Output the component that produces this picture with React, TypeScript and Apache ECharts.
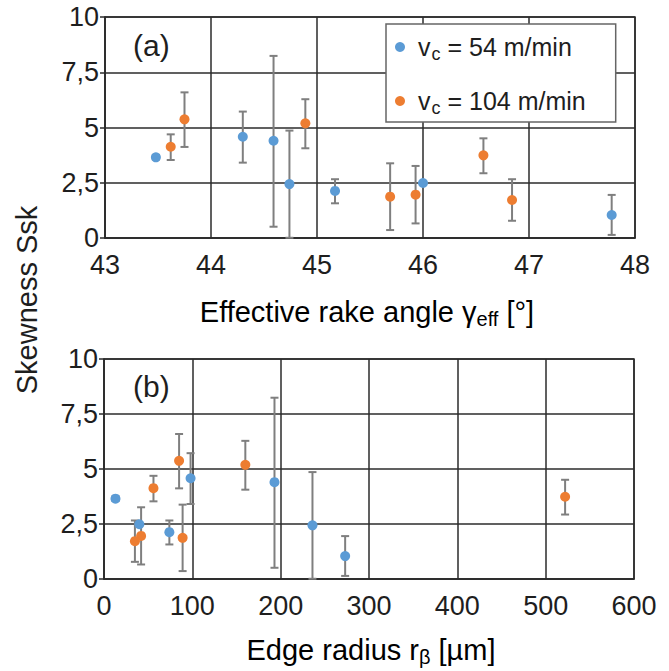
import React, { useEffect, useRef } from "react";
import * as echarts from "echarts";

// ---- data ----
const blueName = "vc = 54 m/min";
const orangeName = "vc = 104 m/min";

// v_c = 54 m/min
const rakeBlue = [43.48, 44.30, 44.59, 44.74, 45.17, 46.00, 47.78];
const radiusBlue = [13, 98, 193, 236, 74, 40, 273];
const sskBlue = [3.65, 4.58, 4.40, 2.44, 2.13, 2.49, 1.04];
const sskBlueLo = [3.55, 3.41, 0.51, 0.01, 1.57, 2.49, 0.14];
const sskBlueHi = [3.76, 5.72, 8.24, 4.86, 2.66, 2.49, 1.95];

// v_c = 104 m/min
const rakeOrange = [43.62, 43.75, 44.89, 45.69, 45.93, 46.57, 46.84];
const radiusOrange = [56, 85, 160, 89, 42, 522, 35];
const sskOrange = [4.13, 5.37, 5.19, 1.87, 1.96, 3.74, 1.72];
const sskOrangeLo = [3.53, 4.12, 4.06, 0.36, 0.66, 2.93, 0.78];
const sskOrangeHi = [4.69, 6.59, 6.28, 3.38, 3.26, 4.51, 2.66];

const rakeTicks = { min: 43, max: 48, interval: 1 };
const radiusTicks = { min: 0, max: 600, interval: 100 };
const sskTicks = { min: 0, max: 10, interval: 2.5 };

const BLUE = "#5B9BD5";
const ORANGE = "#ED7D31";
const ERR = "#7f7f7f";
const GRIDC = "#2b2b2b";
const TXT = "#1e1e1e";
const FONT = "Liberation Sans, Arial, sans-serif";

const points = (xs: number[], ys: number[]) => xs.map((x, i) => [x, ys[i]]);
const errs = (xs: number[], lo: number[], hi: number[]) => xs.map((x, i) => [x, lo[i], hi[i]]);

const renderErr = (params: any, api: any) => {
  const x = api.value(0);
  const lo = api.value(1);
  const hi = api.value(2);
  if (hi - lo <= 0) return { type: "group", children: [] };
  const a = api.coord([x, lo]);
  const b = api.coord([x, hi]);
  const w = 4;
  const st = { stroke: ERR, lineWidth: 2 };
  return {
    type: "group",
    children: [
      { type: "line", shape: { x1: a[0], y1: a[1], x2: b[0], y2: b[1] }, style: st },
      { type: "line", shape: { x1: a[0] - w, y1: a[1], x2: a[0] + w, y2: a[1] }, style: st },
      { type: "line", shape: { x1: b[0] - w, y1: b[1], x2: b[0] + w, y2: b[1] }, style: st },
    ],
  };
};

export default function App() {
  const ref = useRef<HTMLDivElement>(null);
  useEffect(() => {
    if (!ref.current) return;
    const chart = echarts.init(ref.current, undefined, { renderer: "svg" });

    const yAxisBase = (gridIndex: number) => ({
      type: "value",
      gridIndex,
      ...sskTicks,
      axisLine: { show: true, lineStyle: { color: GRIDC, width: 1.5 } },
      axisTick: { show: true, length: 5, lineStyle: { color: GRIDC, width: 1.5 } },
      splitLine: { show: true, lineStyle: { color: GRIDC, width: 1.5 } },
      axisLabel: {
        fontSize: 27,
        fontFamily: FONT,
        color: TXT,
        margin: 6,
        formatter: (v: number) => String(v).replace(".", ","),
      },
    });
    const xAxisBase = (gridIndex: number, t: any) => ({
      type: "value",
      gridIndex,
      ...t,
      axisLine: { show: true, lineStyle: { color: GRIDC, width: 1.5 } },
      axisTick: { show: false },
      splitLine: { show: true, lineStyle: { color: GRIDC, width: 1.5 } },
      axisLabel: { fontSize: 27, fontFamily: FONT, color: TXT, margin: 13 },
    });

    const subRich = {
      a: { fontSize: 29, fontFamily: FONT, color: TXT },
      s: { fontSize: 20, fontFamily: FONT, color: TXT, padding: [14, 0, 0, 0] },
    };

    const errSeries = (name: string, color: string, idx: number, xs: number[], lo: number[], hi: number[]) => ({
      type: "custom",
      name,
      xAxisIndex: idx,
      yAxisIndex: idx,
      renderItem: renderErr,
      encode: { x: 0, y: [1, 2] },
      itemStyle: { color },
      data: errs(xs, lo, hi),
      z: 2,
    });
    const dotSeries = (name: string, color: string, idx: number, xs: number[], ys: number[]) => ({
      type: "scatter",
      name,
      xAxisIndex: idx,
      yAxisIndex: idx,
      symbolSize: 10,
      itemStyle: { color, opacity: 1 },
      data: points(xs, ys),
      z: 3,
    });

    chart.setOption({
      animation: false,
      backgroundColor: "#fff",
      grid: [
        { left: 105, top: 17, width: 530, height: 221, show: true, borderColor: GRIDC, borderWidth: 1.5 },
        { left: 104, top: 359, width: 530, height: 220, show: true, borderColor: GRIDC, borderWidth: 1.5 },
      ],
      xAxis: [xAxisBase(0, rakeTicks), xAxisBase(1, radiusTicks)],
      yAxis: [yAxisBase(0), yAxisBase(1)],
      legend: {
        data: [
          { name: blueName, itemStyle: { color: BLUE } },
          { name: orangeName, itemStyle: { color: ORANGE } },
        ],
        orient: "vertical",
        left: 386,
        top: 24,
        padding: [8, 30, 5, 9],
        itemGap: 23,
        itemWidth: 10,
        itemHeight: 10,
        icon: "circle",
        backgroundColor: "#fff",
        borderColor: "#666",
        borderWidth: 1.5,
        formatter: (name: string) =>
          name === blueName ? "{a|v}{s|c}{a| = 54 m/min}" : "{a|v}{s|c}{a| = 104 m/min}",
        textStyle: {
          fontSize: 25,
          fontFamily: FONT,
          color: TXT,
          lineHeight: 30,
          padding: [0, 0, 0, 8],
          rich: {
            a: { fontSize: 25, fontFamily: FONT, color: TXT },
            s: { fontSize: 18, fontFamily: FONT, color: TXT, padding: [14, 0, 0, 1] },
          },
        },
      },
      graphic: [
        {
          type: "text",
          x: 133,
          y: 45,
          style: { text: "(a)", fontSize: 30, fontFamily: FONT, fill: TXT, textVerticalAlign: "middle" },
        },
        {
          type: "text",
          x: 133,
          y: 386,
          style: { text: "(b)", fontSize: 30, fontFamily: FONT, fill: TXT, textVerticalAlign: "middle" },
        },
        {
          type: "text",
          x: 27,
          y: 300,
          rotation: Math.PI / 2,
          style: {
            text: "Skewness Ssk",
            fontSize: 29,
            fontFamily: FONT,
            fill: TXT,
            textAlign: "center",
            textVerticalAlign: "middle",
          },
        },
        {
          type: "text",
          x: 367,
          y: 312,
          style: {
            text: "{a|Effective rake angle γ}{s|eff}{a| [°]}",
            rich: subRich,
            textAlign: "center",
            textVerticalAlign: "middle",
          },
        },
        {
          type: "text",
          x: 371,
          y: 650,
          style: {
            text: "{a|Edge radius r}{s|β}{a| [µm]}",
            rich: subRich,
            textAlign: "center",
            textVerticalAlign: "middle",
          },
        },
      ],
      series: [
        errSeries(blueName, BLUE, 0, rakeBlue, sskBlueLo, sskBlueHi),
        errSeries(orangeName, ORANGE, 0, rakeOrange, sskOrangeLo, sskOrangeHi),
        errSeries(blueName, BLUE, 1, radiusBlue, sskBlueLo, sskBlueHi),
        errSeries(orangeName, ORANGE, 1, radiusOrange, sskOrangeLo, sskOrangeHi),
        dotSeries(blueName, BLUE, 0, rakeBlue, sskBlue),
        dotSeries(orangeName, ORANGE, 0, rakeOrange, sskOrange),
        dotSeries(blueName, BLUE, 1, radiusBlue, sskBlue),
        dotSeries(orangeName, ORANGE, 1, radiusOrange, sskOrange),
      ],
    });
    return () => chart.dispose();
  }, []);
  return (
    <div
      ref={ref}
      style={{ position: "fixed", left: 0, top: 0, width: 669, height: 671, background: "#fff" }}
    />
  );
}
